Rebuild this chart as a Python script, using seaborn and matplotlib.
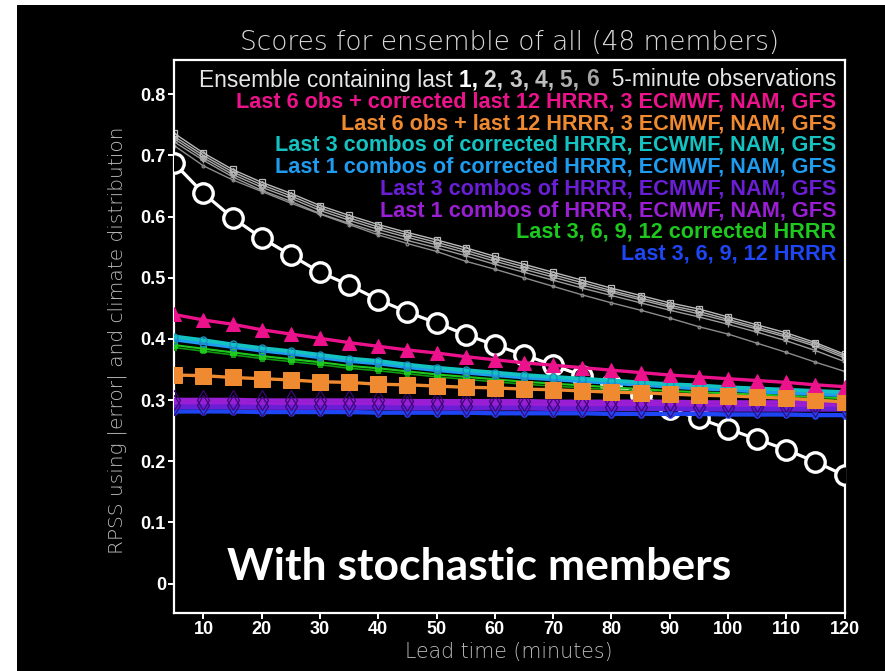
import matplotlib
matplotlib.use("Agg")
import matplotlib.pyplot as plt
import seaborn as sns
from matplotlib.patches import Rectangle

# Lead time (minutes)
lead = [5, 10, 15, 20, 25, 30, 35, 40, 45, 50, 55, 60,
        65, 70, 75, 80, 85, 90, 95, 100, 105, 110, 115, 120]

# Ensembles built from the last N 5-minute observations
obs1 = [0.687, 0.638, 0.598, 0.565, 0.537, 0.509, 0.488, 0.464, 0.444, 0.426, 0.407, 0.390,
        0.374, 0.357, 0.340, 0.325, 0.308, 0.285, 0.270, 0.253, 0.236, 0.219, 0.199, 0.177]
obs2 = [0.736, 0.704, 0.677, 0.656, 0.638, 0.618, 0.602, 0.587, 0.574, 0.562, 0.549, 0.535,
        0.522, 0.509, 0.496, 0.483, 0.471, 0.459, 0.449, 0.436, 0.423, 0.410, 0.394, 0.375]
obs3 = [0.731, 0.700, 0.673, 0.652, 0.634, 0.614, 0.598, 0.583, 0.570, 0.558, 0.545, 0.531,
        0.518, 0.505, 0.492, 0.479, 0.467, 0.455, 0.445, 0.432, 0.419, 0.406, 0.391, 0.372]
obs4 = [0.727, 0.696, 0.669, 0.648, 0.630, 0.610, 0.594, 0.579, 0.566, 0.554, 0.541, 0.527,
        0.514, 0.501, 0.488, 0.476, 0.464, 0.452, 0.441, 0.429, 0.416, 0.403, 0.388, 0.369]
obs5 = [0.722, 0.692, 0.665, 0.643, 0.625, 0.605, 0.589, 0.574, 0.561, 0.549, 0.536, 0.522,
        0.509, 0.496, 0.483, 0.471, 0.459, 0.447, 0.436, 0.424, 0.411, 0.397, 0.381, 0.363]
obs6 = [0.716, 0.683, 0.660, 0.641, 0.622, 0.604, 0.587, 0.570, 0.556, 0.543, 0.527, 0.514,
        0.500, 0.486, 0.472, 0.459, 0.447, 0.434, 0.420, 0.408, 0.393, 0.378, 0.362, 0.347]

# Observations combined with model members
obs_corr_models = [0.440, 0.431, 0.424, 0.415, 0.408, 0.401, 0.394, 0.388, 0.382, 0.377, 0.371, 0.366,
                   0.361, 0.357, 0.353, 0.349, 0.345, 0.341, 0.338, 0.335, 0.332, 0.329, 0.325, 0.322]
obs_models = [0.341, 0.340, 0.337, 0.335, 0.333, 0.330, 0.329, 0.326, 0.325, 0.323, 0.321, 0.320,
              0.318, 0.317, 0.315, 0.313, 0.312, 0.310, 0.308, 0.307, 0.305, 0.303, 0.300, 0.297]

# Model combos (corrected)
combo3_corr = [0.404, 0.398, 0.391, 0.385, 0.380, 0.374, 0.368, 0.364, 0.358, 0.353, 0.349, 0.345,
               0.341, 0.338, 0.335, 0.332, 0.329, 0.326, 0.324, 0.321, 0.319, 0.317, 0.315, 0.313]
combo1_corr = [0.399, 0.393, 0.387, 0.381, 0.376, 0.370, 0.364, 0.360, 0.354, 0.349, 0.345, 0.341,
               0.337, 0.334, 0.331, 0.328, 0.325, 0.322, 0.319, 0.317, 0.314, 0.312, 0.310, 0.308]
hrrr_corr_a = [0.390, 0.384, 0.378, 0.372, 0.367, 0.362, 0.356, 0.352, 0.347, 0.342, 0.338, 0.334,
               0.330, 0.327, 0.324, 0.321, 0.318, 0.315, 0.313, 0.311, 0.309, 0.307, 0.305, 0.303]
hrrr_corr_b = [0.386, 0.380, 0.374, 0.368, 0.363, 0.358, 0.352, 0.348, 0.343, 0.338, 0.334, 0.330,
               0.326, 0.323, 0.320, 0.317, 0.314, 0.311, 0.309, 0.307, 0.305, 0.303, 0.301, 0.299]

# Model combos (raw)
combo1_a = [0.301, 0.301, 0.301, 0.300, 0.300, 0.300, 0.300, 0.300, 0.299, 0.299, 0.299, 0.299,
            0.299, 0.298, 0.298, 0.298, 0.298, 0.298, 0.297, 0.297, 0.297, 0.297, 0.297, 0.297]
combo1_b = [0.296, 0.296, 0.296, 0.295, 0.295, 0.295, 0.295, 0.295, 0.294, 0.294, 0.294, 0.294,
            0.294, 0.293, 0.293, 0.293, 0.293, 0.293, 0.292, 0.292, 0.292, 0.292, 0.292, 0.292]
combo3_a = [0.292, 0.292, 0.292, 0.291, 0.291, 0.291, 0.291, 0.291, 0.290, 0.290, 0.290, 0.290,
            0.290, 0.289, 0.289, 0.289, 0.289, 0.289, 0.288, 0.288, 0.288, 0.288, 0.288, 0.288]
combo3_b = [0.288, 0.288, 0.288, 0.287, 0.287, 0.287, 0.287, 0.287, 0.286, 0.286, 0.286, 0.286,
            0.286, 0.285, 0.285, 0.285, 0.285, 0.285, 0.284, 0.284, 0.284, 0.284, 0.284, 0.284]
hrrr_a = [0.283, 0.283, 0.283, 0.282, 0.282, 0.282, 0.282, 0.281, 0.281, 0.281, 0.281, 0.280,
          0.280, 0.280, 0.280, 0.279, 0.279, 0.279, 0.279, 0.278, 0.278, 0.278, 0.277, 0.277]
hrrr_b = [0.280, 0.280, 0.280, 0.279, 0.279, 0.279, 0.279, 0.278, 0.278, 0.278, 0.278, 0.277,
          0.277, 0.277, 0.277, 0.276, 0.276, 0.276, 0.276, 0.275, 0.275, 0.275, 0.274, 0.274]

y_ticks = [0, 0.1, 0.2, 0.3, 0.4, 0.5, 0.6, 0.7, 0.8]
y_ticklabels = ["0", "0.1", "0.2", "0.3", "0.4", "0.5", "0.6", "0.7", "0.8"]
x_ticks = [10, 20, 30, 40, 50, 60, 70, 80, 90, 100, 110, 120]

PINK = "#ec128c"
ORANGE = "#f08a30"
TEAL = "#14c2c2"
LBLUE = "#1e9cf0"
INDIGO = "#6a1ed6"
VIOLET = "#9a1ed4"
GREEN = "#1ec81e"
BLUE = "#1e46f5"

sns.set_style("dark", {"axes.facecolor": "black", "figure.facecolor": "black"})
plt.rcParams["font.family"] = ["Liberation Sans", "DejaVu Sans"]

W, H = 885, 671
fig = plt.figure(figsize=(W / 100, H / 100), dpi=100, facecolor="black")
ax = fig.add_axes([174.3 / W, 1 - 613 / H, (844.6 - 174.3) / W, (613 - 60) / H])
ax.set_facecolor("black")

# white margins of the slide
fig.patches.append(Rectangle((0, 0), 17 / W, 1, transform=fig.transFigure,
                             facecolor="white", edgecolor="none", zorder=0))
fig.patches.append(Rectangle((0, 1 - 5 / H), 1, 5 / H, transform=fig.transFigure,
                             facecolor="white", edgecolor="none", zorder=0))


def line(y, color, lw=1.5, z=2, **kw):
    sns.lineplot(x=lead, y=y, ax=ax, color=color, linewidth=lw, zorder=z,
                 legend=False, **kw)


# grey observation-only ensembles
grey_sets = [
    (obs6, "#8c8c8c", "."),
    (obs5, "#9a9a9a", "+"),
    (obs4, "#a6a6a6", "P"),
    (obs3, "#b0b0b0", "D"),
    (obs2, "#bababa", "s"),
]
for ys, c, m in grey_sets:
    line(ys, c, lw=1.0, z=2, marker=m, markersize=4, markerfacecolor="none",
         markeredgecolor=c, markeredgewidth=0.9)

# last observation only
line(obs1, "white", lw=2.3, z=3, marker="o", markersize=14,
     markerfacecolor="black", markeredgecolor="white", markeredgewidth=2.4)

# HRRR only
for ys in (hrrr_b, hrrr_a):
    line(ys, BLUE, lw=1.8, z=4, marker="o", markersize=4,
         markeredgecolor=BLUE, markerfacecolor=BLUE)

# raw combos
for ys, c in ((combo3_b, INDIGO), (combo3_a, INDIGO), (combo1_b, VIOLET), (combo1_a, VIOLET)):
    line(ys, c, lw=2.6, z=5)
for ys in (combo3_a, combo1_a):
    line(ys, "none", lw=0, z=5.5, marker="d", markersize=10,
         markerfacecolor="none", markeredgecolor="#3c0878", markeredgewidth=0.9)

# corrected HRRR
line(hrrr_corr_b, "#0f9a0f", lw=1.2, z=6, marker="s", markersize=3,
     markeredgecolor="#0f9a0f")
line(hrrr_corr_a, GREEN, lw=1.5, z=6, marker="s", markersize=4,
     markeredgecolor=GREEN)

# corrected combos
line(combo1_corr, LBLUE, lw=2.8, z=7, marker="o", markersize=5,
     markerfacecolor="none", markeredgecolor="#1a78d0", markeredgewidth=1.0)
line(combo3_corr, TEAL, lw=2.8, z=7, marker="o", markersize=5,
     markerfacecolor="none", markeredgecolor="#1a90c0", markeredgewidth=1.0)

# observations + models
line(obs_models, ORANGE, lw=2.4, z=8, marker="s", markersize=12,
     markerfacecolor=ORANGE, markeredgecolor=ORANGE)
line(obs_corr_models, PINK, lw=2.4, z=9, marker="^", markersize=10,
     markerfacecolor=PINK, markeredgecolor=PINK)

ax.set_xlim(5, 120)
ax.set_ylim(-0.048, 0.856)
ax.set_xticks(x_ticks)
ax.set_xticklabels([str(v) for v in x_ticks])
ax.set_yticks(y_ticks)
ax.set_yticklabels(y_ticklabels)
ax.set_xlabel("")
ax.set_ylabel("")
ax.grid(False)
for sp in ax.spines.values():
    sp.set_visible(True)
    sp.set_color("white")
    sp.set_linewidth(1.6)
ax.tick_params(axis="both", direction="out", length=4, width=1.4, color="white",
               labelcolor="white", pad=2, bottom=True, left=True)
for lab in ax.get_xticklabels() + ax.get_yticklabels():
    lab.set_fontfamily(["Liberation Sans Narrow", "Liberation Sans", "DejaVu Sans"])
    lab.set_fontweight("bold")
    lab.set_fontsize(13)

# title and axis labels
fig.text(510 / W, 1 - 42 / H, "Scores for ensemble of all (48 members)",
         ha="center", va="center", color="#dcdcdc", fontsize=19,
         family=["DejaVu Sans"], fontweight="light")
fig.text(117 / W, 1 - 340 / H, "RPSS using |error| and climate distribution",
         rotation=90, ha="center", va="center", color="#bcbcbc", fontsize=14.5,
         family=["DejaVu Sans"], fontweight="light")
fig.text(509 / W, 1 - 652 / H, "Lead time (minutes)", ha="center", va="center",
         color="#bcbcbc", fontsize=14.8, family=["DejaVu Sans"], fontweight="light")

# key text, right aligned
renderer = fig.canvas.get_renderer()
right_px = 836
first_line = [
    ("Ensemble containing last ", "normal", "#e6e6e6"),
    ("1, ", "bold", "#ffffff"),
    ("2, ", "bold", "#d8d8d8"),
    ("3, ", "bold", "#c8c8c8"),
    ("4, ", "bold", "#bcbcbc"),
    ("5, ", "bold", "#b0b0b0"),
    ("6", "bold", "#a4a4a4"),
    ("  5-minute observations", "normal", "#e6e6e6"),
]
y0 = 80
x_px = right_px
for s, wgt, c in reversed(first_line):
    t = fig.text(x_px / W, 1 - y0 / H, s, ha="right", va="center", color=c,
                 fontsize=16.4, fontweight=wgt)
    bb = t.get_window_extent(renderer)
    x_px = bb.x0

key_lines = [
    ("Last 6 obs + corrected last 12 HRRR, 3 ECMWF, NAM, GFS", PINK),
    ("Last 6 obs + last 12 HRRR, 3 ECMWF, NAM, GFS", ORANGE),
    ("Last 3 combos of corrected HRRR, ECWMF, NAM, GFS", TEAL),
    ("Last 1 combos of corrected HRRR, ECMWF, NAM, GFS", LBLUE),
    ("Last 3 combos of HRRR, ECMWF, NAM, GFS", INDIGO),
    ("Last 1 combos of HRRR, ECMWF, NAM, GFS", VIOLET),
    ("Last 3, 6, 9, 12 corrected HRRR", GREEN),
    ("Last 3, 6, 9, 12 HRRR", BLUE),
]
for i, (s, c) in enumerate(key_lines):
    fig.text(right_px / W, 1 - (102 + 21.7 * i) / H, s, ha="right", va="center",
             color=c, fontsize=15.6, fontweight="bold")

fig.text(227 / W, 1 - 580 / H, "With stochastic members", ha="left", va="baseline",
         color="white", fontsize=32, fontweight="bold", family=["Lato", "DejaVu Sans"])

fig.savefig("out.png", dpi=100, facecolor="black")
